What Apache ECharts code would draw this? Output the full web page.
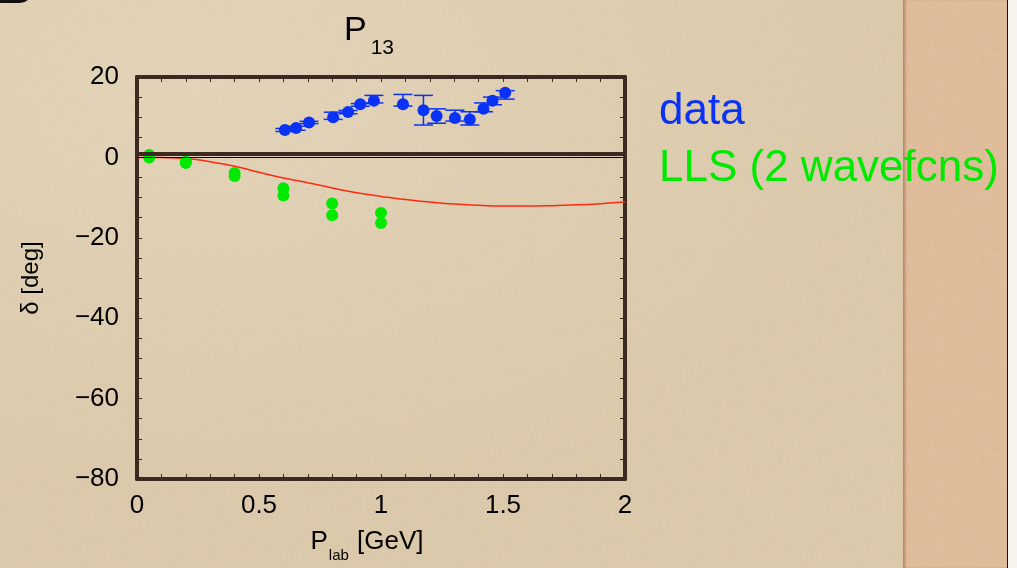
<!DOCTYPE html>
<html>
<head>
<meta charset="utf-8">
<title>P13 phase shift</title>
<script src="https://cdn.jsdelivr.net/npm/echarts@6/dist/echarts.min.js"></script>
<style>
  html, body { margin: 0; padding: 0; }
  body {
    width: 1017px; height: 568px; overflow: hidden; position: relative;
    background-color: #dfcdb0;
    background-image:
      url("data:image/svg+xml;utf8,<svg xmlns='http://www.w3.org/2000/svg' width='260' height='260'><filter id='n'><feTurbulence type='fractalNoise' baseFrequency='0.85' numOctaves='2' stitchTiles='stitch'/><feColorMatrix values='0 0 0 0 0.5 0 0 0 0 0.38 0 0 0 0 0.22 0 0 0 0.22 0'/></filter><rect width='100%' height='100%' filter='url(%23n)'/></svg>"),
      radial-gradient(ellipse at 20% 15%, rgba(240,228,205,0.5), rgba(240,228,205,0) 60%);
  }
  #strip {
    position: absolute; left: 903px; top: 0; width: 104px; height: 568px;
    background-color: #d8b08a;
    background-image: url("data:image/svg+xml;utf8,<svg xmlns='http://www.w3.org/2000/svg' width='200' height='200'><filter id='m'><feTurbulence type='fractalNoise' baseFrequency='1.1' numOctaves='2' stitchTiles='stitch'/><feColorMatrix values='0 0 0 0 0.95 0 0 0 0 0.85 0 0 0 0 0.7 0 0 0 0.4 0'/></filter><rect width='100%' height='100%' filter='url(%23m)'/></svg>");
    box-shadow: inset 3px 0 3px -1px rgba(150,95,60,0.6);
  }
  #edge { position: absolute; left: 1007px; top: 0; width: 10px; height: 568px; background: #f7f3ee; border-left: 1px solid #111; }
  #corner { position: absolute; left: -6px; top: -9px; width: 38px; height: 12px; background: #111; border-radius: 0 0 20px 6px; }
  #chart { position: absolute; left: 0; top: 0; width: 1017px; height: 568px; }
</style>
</head>
<body>
<div id="strip"></div>
<div id="edge"></div>
<div id="corner"></div>
<div id="chart"></div>
<script>
// Measured phase shifts (P13 partial wave) with error ranges
const dataX    = [0.606, 0.652, 0.705, 0.804, 0.865, 0.915, 0.971, 1.090, 1.174, 1.228, 1.303, 1.364, 1.420, 1.457, 1.509];
const dataY    = [6.8, 7.3, 8.7, 10.0, 11.3, 13.2, 14.1, 13.2, 11.7, 10.3, 9.8, 9.4, 12.1, 14.1, 16.1];
const dataLow  = [6.45, 6.76, 8.4, 9.46, 10.86, 12.72, 13.55, 12.77, 8.06, 8.5, 9.04, 8.06, 11.35, 13.1, 14.5];
const dataHigh = [7.18, 7.75, 8.97, 11.25, 11.67, 13.38, 15.42, 15.66, 15.42, 12.08, 11.74, 11.35, 13.55, 15.0, 16.6];

// Lattice (LLS) results, two wavefunctions per momentum
const llsX = [0.05, 0.05, 0.2, 0.2, 0.4, 0.4, 0.6, 0.6, 0.8, 0.8, 1.0, 1.0];
const llsY = [0.6, 0.0, -1.0, -1.4, -3.9, -4.6, -7.7, -9.5, -11.45, -14.4, -13.8, -16.3];

// Model curve
const curveX = [0, 0.1, 0.2, 0.3, 0.4, 0.5, 0.6, 0.7, 0.8, 0.9, 1.0, 1.1, 1.2, 1.3, 1.4, 1.5, 1.6, 1.7, 1.8, 1.9, 2.0];
const curveY = [0, -0.05, -0.25, -1.1, -2.2, -3.7, -5.1, -6.3, -7.6, -8.8, -9.7, -10.5, -11.1, -11.6, -11.9, -12.1, -12.1, -12.0, -11.8, -11.5, -11.1];

// Axis ticks
const xTicks = [0, 0.5, 1, 1.5, 2];
const yTicks = [-80, -60, -40, -20, 0, 20];

const FONT = "'Liberation Sans', Arial, Helvetica, sans-serif";
const FRAME = '#3b2a22';
const BLUE = '#0a32f5';
const GREEN = '#00ea00';
const RED = '#ff2a12';

const chart = echarts.init(document.getElementById('chart'), null, { renderer: 'canvas', width: 1017, height: 568 });

const frameAxis = {
  axisLine: { show: true, onZero: false, lineStyle: { color: FRAME, width: 4 } },
  axisTick: { show: true, inside: true, length: 5, lineStyle: { color: FRAME, width: 1 } },
  minorTick: { show: true, length: 5, lineStyle: { color: FRAME, width: 1 } },
  splitLine: { show: false }
};

const option = {
  backgroundColor: 'transparent',
  animation: false,
  textStyle: { fontFamily: FONT },
  title: {
    text: '{p|P}{s|13}',
    left: 339, top: 9,
    textStyle: {
      fontWeight: 'normal',
      rich: {
        p: { fontFamily: FONT, fontSize: 34, fontWeight: 'normal', color: '#000', verticalAlign: 'top', lineHeight: 34 },
        s: { fontFamily: FONT, fontSize: 21, fontWeight: 'normal', color: '#000', verticalAlign: 'top', lineHeight: 21, padding: [24, 0, 0, 4] }
      }
    }
  },
  legend: {
    orient: 'vertical',
    left: 649, top: 85,
    itemWidth: 0, itemHeight: 0,
    itemGap: 13,
    icon: 'none',
    selectedMode: false,
    textStyle: { fontFamily: FONT, fontSize: 44, lineHeight: 44 },
    data: [
      { name: 'data', textStyle: { color: BLUE } },
      { name: 'LLS (2 wavefcns)', textStyle: { color: GREEN } }
    ]
  },
  grid: { left: 137, width: 488, top: 77, height: 408, containLabel: false },
  xAxis: [
    Object.assign({}, frameAxis, {
      type: 'value', min: xTicks[0], max: xTicks[xTicks.length - 1], interval: 0.5,
      position: 'bottom',
      minorTick: Object.assign({}, frameAxis.minorTick, { splitNumber: 5 }),
      axisLabel: {
        margin: 14, fontFamily: FONT, fontSize: 26, color: '#000',
        formatter: v => String(v)
      },
      name: '{n|P}{s|lab}{n| [GeV]}',
      nameLocation: 'middle', nameGap: 50,
      nameTextStyle: {
        padding: [0, 28, 0, 0],
        rich: {
          n: { fontFamily: FONT, fontSize: 26, color: '#000', verticalAlign: 'top', lineHeight: 28 },
          s: { fontFamily: FONT, fontSize: 15, color: '#000', verticalAlign: 'top', lineHeight: 15, padding: [19, 1, 0, 1] }
        }
      }
    }),
    Object.assign({}, frameAxis, {
      type: 'value', min: xTicks[0], max: xTicks[xTicks.length - 1], interval: 0.5,
      position: 'top',
      minorTick: Object.assign({}, frameAxis.minorTick, { splitNumber: 5 }),
      axisLabel: { show: false }
    })
  ],
  yAxis: [
    Object.assign({}, frameAxis, {
      type: 'value', min: yTicks[0], max: yTicks[yTicks.length - 1], interval: 20,
      position: 'left',
      minorTick: Object.assign({}, frameAxis.minorTick, { splitNumber: 4 }),
      axisLabel: {
        margin: 18, fontFamily: FONT, fontSize: 26, color: '#000',
        formatter: v => (v < 0 ? '\u2212' + Math.abs(v) : String(v))
      },
      name: '\u03b4 [deg]',
      nameLocation: 'middle', nameGap: 94, nameRotate: 90,
      nameTextStyle: { fontFamily: FONT, fontSize: 24, color: '#000' }
    }),
    Object.assign({}, frameAxis, {
      type: 'value', min: yTicks[0], max: yTicks[yTicks.length - 1], interval: 20,
      position: 'right',
      minorTick: Object.assign({}, frameAxis.minorTick, { splitNumber: 4 }),
      axisLabel: { show: false }
    })
  ],
  series: [
    {
      // zero reference lines
      name: 'zero',
      type: 'line',
      data: [],
      silent: true,
      markLine: {
        symbol: 'none', silent: true, label: { show: false },
        data: [
          { yAxis: 0.8, lineStyle: { color: FRAME, width: 4, type: 'solid' } },
          { yAxis: 0, lineStyle: { color: '#000', width: 1, type: 'solid' } }
        ]
      }
    },
    {
      name: 'model',
      type: 'line',
      smooth: true,
      showSymbol: false,
      lineStyle: { color: RED, width: 1.5 },
      data: curveX.map((x, i) => [x, curveY[i]]),
      z: 3
    },
    {
      name: 'LLS (2 wavefcns)',
      type: 'scatter',
      symbolSize: 12,
      itemStyle: { color: GREEN, opacity: 1 },
      data: llsX.map((x, i) => [x, llsY[i]]),
      z: 4
    },
    {
      name: 'data',
      type: 'custom',
      data: dataX.map((x, i) => [x, dataLow[i], dataHigh[i]]),
      encode: { x: 0, y: [1, 2] },
      renderItem: function (params, api) {
        const x = api.value(0);
        const lo = api.coord([x, api.value(1)]);
        const hi = api.coord([x, api.value(2)]);
        const hw = 9.5;
        const style = { stroke: BLUE, lineWidth: 1.5 };
        return {
          type: 'group',
          children: [
            { type: 'line', shape: { x1: hi[0], y1: hi[1], x2: lo[0], y2: lo[1] }, style: style },
            { type: 'line', shape: { x1: hi[0] - hw, y1: hi[1], x2: hi[0] + hw, y2: hi[1] }, style: style },
            { type: 'line', shape: { x1: lo[0] - hw, y1: lo[1], x2: lo[0] + hw, y2: lo[1] }, style: style }
          ]
        };
      },
      itemStyle: { color: BLUE },
      z: 5
    },
    {
      name: 'data',
      type: 'scatter',
      symbolSize: 12,
      itemStyle: { color: BLUE, opacity: 1 },
      data: dataX.map((x, i) => [x, dataY[i]]),
      z: 6
    }
  ]
};

chart.setOption(option);
</script>
</body>
</html>
